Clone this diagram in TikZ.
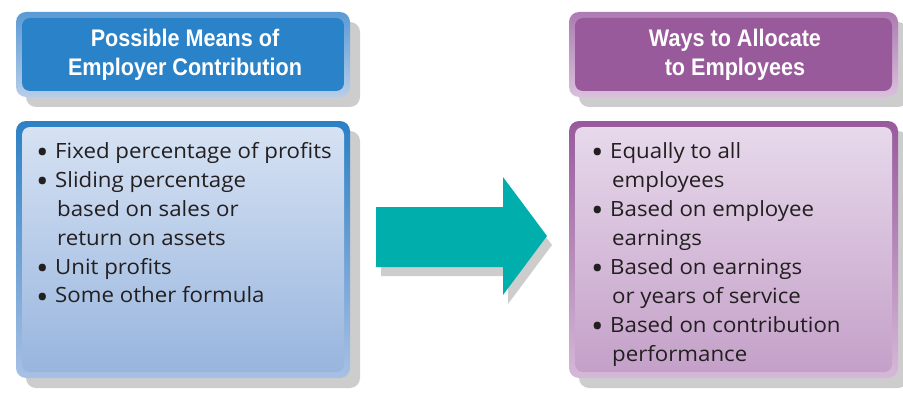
\documentclass[tikz,border=0pt]{standalone}
\usepackage{fontspec}
\setmainfont[FakeStretch=1.06]{Open Sans}
\newfontfamily\headfont[FakeStretch=0.9]{Liberation Sans}
\usetikzlibrary{calc}
\definecolor{boxshadow}{HTML}{CDCDCD}
\definecolor{bluehead}{HTML}{2A82C8}
\definecolor{blueframetop}{HTML}{5A9AD5}
\definecolor{blueframebot}{HTML}{B8CDE9}
\definecolor{blueedgetop}{HTML}{2C80C4}
\definecolor{blueedgebot}{HTML}{A8C0E4}
\definecolor{bluefilltop}{HTML}{D6E2F3}
\definecolor{bluefillbot}{HTML}{98B5DE}
\definecolor{plumhead}{HTML}{985A9B}
\definecolor{plumframetop}{HTML}{AD7BB2}
\definecolor{plumframebot}{HTML}{DAC0DC}
\definecolor{plumedgetop}{HTML}{985A9C}
\definecolor{plumedgebot}{HTML}{D5B8D8}
\definecolor{plumfilltop}{HTML}{E7D9EB}
\definecolor{plumfillbot}{HTML}{C4A0C8}
\definecolor{arrowteal}{HTML}{00AFAB}
\definecolor{textdark}{HTML}{231F20}
\newcommand{\panelbox}[6]{% corners, frame shading, fill shading
  \fill[boxshadow,rounded corners=10pt,shift={(10,10)}] (#1) rectangle (#2);
  \shade[rounded corners=10pt,top color=#3,bottom color=#4] (#1) rectangle (#2);
  \shade[rounded corners=8pt,top color=#5,bottom color=#6]
    ($(#1)+(6,6)$) rectangle ($(#2)+(-6,-6)$);}
\newcommand{\bul}{\makebox[19pt][l]{\raisebox{-5.5pt}{\scalebox{1.5}{\textbullet}}}}

\begin{document}
\begin{tikzpicture}[x=1pt,y=-1pt,
  headtext/.style={text=white,align=center,inner sep=0pt,
    font=\headfont\bfseries\fontsize{24}{29}\selectfont},
  bodytext/.style={text=textdark,inner sep=0pt,anchor=base west,
    font=\fontsize{21}{29}\selectfont}]
\useasboundingbox (0,0) rectangle (903,396);
% left column
\panelbox{16,12}{350,97}{blueframetop}{blueframebot}{bluehead}{bluehead}
\panelbox{16,121}{350,378}{blueedgetop}{blueedgebot}{bluefilltop}{bluefillbot}
\node[headtext] (meanshead) at (185,55) {Possible Means of\\Employer Contribution};
\node[bodytext] (meansbody) at (36,158) {\begin{tabular}[t]{@{}l@{}l@{}}
  \bul & Fixed percentage of profits\\
  \bul & Sliding percentage\\
  & \hspace{2pt}based on sales or\\
  & \hspace{2pt}return on assets\\
  \bul & Unit profits\\
  \bul & Some other formula
  \end{tabular}};
% block arrow
\fill[boxshadow,shift={(5,9)}] (376,207) -- (503,207) -- (503,177) -- (547,236)
  -- (503,295) -- (503,267) -- (376,267) -- cycle;
\fill[arrowteal] (376,207) -- (503,207) -- (503,177) -- (547,236)
  -- (503,295) -- (503,267) -- (376,267) -- cycle;
% right column
\panelbox{569,12}{898,97}{plumframetop}{plumframebot}{plumhead}{plumhead}
\panelbox{569,121}{898,378}{plumedgetop}{plumedgebot}{plumfilltop}{plumfillbot}
\node[headtext] (allochead) at (735,55) {Ways to Allocate\\to Employees};
\node[bodytext] (allocbody) at (591,158) {\begin{tabular}[t]{@{}l@{}l@{}}
  \bul & Equally to all\\
  & \hspace{2pt}employees\\
  \bul & Based on employee\\
  & \hspace{2pt}earnings\\
  \bul & Based on earnings\\
  & \hspace{2pt}or years of service\\
  \bul & Based on contribution\\
  & \hspace{2pt}performance
  \end{tabular}};
\end{tikzpicture}
\end{document}
